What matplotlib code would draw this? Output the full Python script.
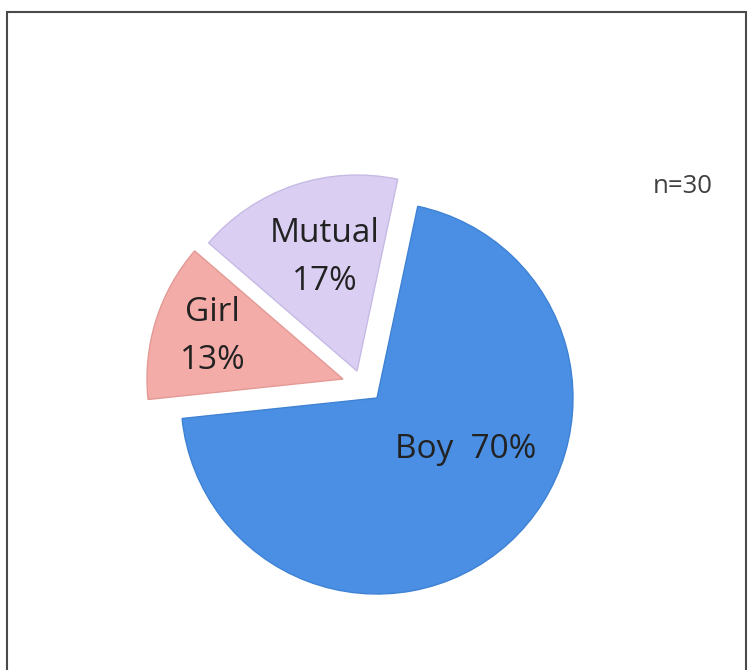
import numpy as np
import matplotlib
matplotlib.use("Agg")
import matplotlib.pyplot as plt
from matplotlib.patches import Rectangle

categories = ["Boy", "Girl", "Mutual"]
percents = [70, 13, 17]
sample_label = "n=30"

colors = ["#4a8fe3", "#f4aca8", "#dacff2"]
edge_colors = ["#3f82d4", "#e39a96", "#c6bae4"]
explode = [0.0, 0.18, 0.17]
# wedge offsets (pixels, x right / y up) for the pulled-out slices
offsets_px = [(0, 0), (-34, 19), (-20, 27)]

W, H = 748, 670
fig = plt.figure(figsize=(W / 100, H / 100), dpi=100)
ax = fig.add_axes([0, 0, 1, 1])
R = 196.0
cx, cy = 377.0, 398.0

wedges, _ = ax.pie(percents, startangle=78, counterclock=False, explode=explode,
                   colors=colors, radius=1.0, center=(0, 0),
                   wedgeprops=dict(linewidth=1.0), frame=True)
for w, ec, off in zip(wedges, edge_colors, offsets_px):
    w.set_edgecolor(ec)
    w.set_center((off[0] / R, off[1] / R))
ax.set_xlim(-cx / R, (W - cx) / R)
ax.set_ylim(-(H - cy) / R, cy / R)
ax.set_aspect("auto")
ax.axis("off")

font = ["Open Sans", "DejaVu Sans"]
txt_color = "#222222"
label_specs = {0: (-30, 0.525), 1: (162, 0.70), 2: (106, 0.60)}
for i, w in enumerate(wedges):
    c = w.center
    ang, dist = label_specs[i]
    x = c[0] + dist * np.cos(np.radians(ang))
    y = c[1] + dist * np.sin(np.radians(ang))
    if i == 0:
        s = f"{categories[i]}  {percents[i]}%"
    else:
        s = f"{categories[i]}\n{percents[i]}%"
    ax.text(x, y, s, ha="center", va="center", fontsize=24, family=font,
            color=txt_color, linespacing=1.6)

fig.text(683 / W, 1 - 187 / H, sample_label, ha="center", va="center",
         fontsize=18.5, family=font, color="#404040")

fig.patches.append(Rectangle((7 / W, -0.01), (746 - 7) / W, 1 - 12 / H + 0.01,
                             transform=fig.transFigure, fill=False,
                             edgecolor="#4a4a4a", linewidth=1.5))

fig.savefig("out.png", dpi=100, facecolor="white")
